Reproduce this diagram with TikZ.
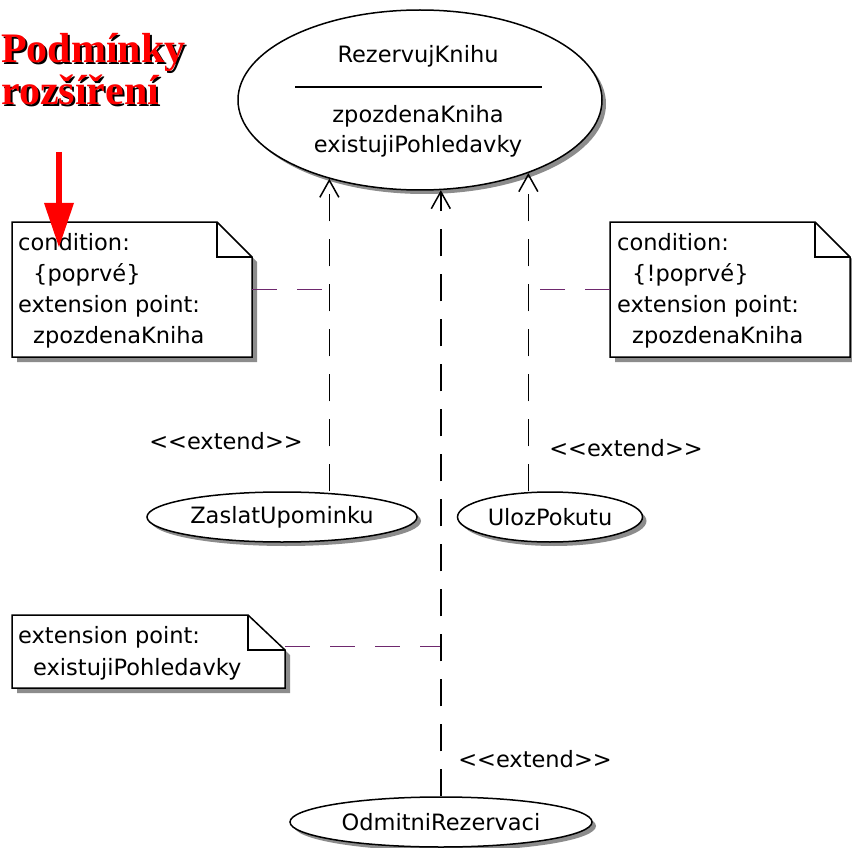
\documentclass[tikz,border=0pt]{standalone}
\usepackage{fontspec}
\setmainfont{Liberation Serif}
\newfontfamily\umlfont{DejaVu Sans}
\usetikzlibrary{arrows.meta,shadows,shapes.geometric}
\definecolor{umlpurple}{RGB}{110,40,110}
\begin{document}
\begin{tikzpicture}[x=1pt,y=-1pt,
  uml/.style={font=\umlfont\fontsize{22.5}{31}\selectfont, inner sep=0pt},
  ucshadow/.style={drop shadow={shadow xshift=4pt,shadow yshift=-4pt,fill=black!45,opacity=1}},
  usecase/.style={ellipse, draw=black, line width=1.5pt, fill=white, uml, ucshadow},
  notefrm/.style={draw=black, line width=1.5pt, fill=white,
    drop shadow={shadow xshift=5pt,shadow yshift=-5pt,fill=black!45,opacity=1}},
  notefold/.style={draw=black, line width=1.5pt},
  noteanchor/.style={rectangle, inner sep=0pt, outer sep=0pt, draw=none},
  notetext/.style={uml, anchor=base west},
  extendline/.style={line width=1.7pt, dash pattern=on 27pt off 18pt,
    -{Straight Barb[length=17pt,width=19pt,line width=1.5pt]}},
  notelink/.style={draw=umlpurple, line width=1.6pt, dash pattern=on 25pt off 20pt},
  stereo/.style={uml, anchor=base},
  titletext/.style={font=\bfseries\fontsize{42}{40}\selectfont, inner sep=0pt, anchor=base west},
]
% canvas
\path[fill=white] (0,0) rectangle (852,848);
\useasboundingbox (0,0) rectangle (852,848);

% use cases
\node[usecase, minimum width=364pt, minimum height=180pt] (rk) at (420,100) {};
\node[uml, anchor=base] (rkname) at (418,63) {RezervujKnihu};
\draw[line width=1.5pt] (295,87) -- (542,87);
\node[uml, anchor=base] (rkep1) at (418,123) {zpozdenaKniha};
\node[uml, anchor=base] (rkep2) at (418,153) {existujiPohledavky};

\node[usecase, minimum width=270pt, minimum height=50pt] (zu) at (282,517) {ZaslatUpominku};
\node[usecase, minimum width=185pt, minimum height=50pt] (up) at (550,517) {UlozPokutu};
\node[usecase, minimum width=302pt, minimum height=50pt] (or) at (441,822) {OdmitniRezervaci};

% notes
\node[noteanchor, minimum width=240pt, minimum height=135pt] (n1) at (132,289.5) {};
\draw[notefrm] (n1.north west) -- ([xshift=-35pt]n1.north east) -- ([yshift=-35pt]n1.north east)
  -- (n1.south east) -- (n1.south west) -- cycle;
\draw[notefold] ([xshift=-35pt]n1.north east) |- ([yshift=-35pt]n1.north east);
\node[notetext] (n1text) at (18,251) {\begin{tabular}[t]{@{}l@{}}condition:\\\hspace*{15pt}\{poprvé\}\\extension point:\\\hspace*{15pt}zpozdenaKniha\end{tabular}};

\node[noteanchor, minimum width=240pt, minimum height=135pt] (n2) at (730,289.5) {};
\draw[notefrm] (n2.north west) -- ([xshift=-35pt]n2.north east) -- ([yshift=-35pt]n2.north east)
  -- (n2.south east) -- (n2.south west) -- cycle;
\draw[notefold] ([xshift=-35pt]n2.north east) |- ([yshift=-35pt]n2.north east);
\node[notetext] (n2text) at (617,251) {\begin{tabular}[t]{@{}l@{}}condition:\\\hspace*{15pt}\{!poprvé\}\\extension point:\\\hspace*{15pt}zpozdenaKniha\end{tabular}};

\node[noteanchor, minimum width=273pt, minimum height=73pt] (n3) at (148.5,651.5) {};
\draw[notefrm] (n3.north west) -- ([xshift=-37pt]n3.north east) -- ([yshift=-35pt]n3.north east)
  -- (n3.south east) -- (n3.south west) -- cycle;
\draw[notefold] ([xshift=-37pt]n3.north east) |- ([yshift=-35pt]n3.north east);
\node[notetext] (n3text) at (18,643) {\fontsize{22.5}{32}\selectfont\begin{tabular}[t]{@{}l@{}}extension point:\\\hspace*{15pt}existujiPohledavky\end{tabular}};

% note links
\draw[notelink] (n1.east) -- (n1.east -| rk.221);
\draw[notelink] (n2.west) -- (n2.west -| rk.326);
\draw[notelink] ([yshift=5pt]n3.east) -- ([yshift=5pt]n3.east -| rk.283);

% extend relations
\draw[extendline] (rk.221 |- zu.north) -- (rk.221);
\draw[extendline] (rk.326 |- up.north) -- (rk.326);
\draw[extendline] (rk.283 |- or.north) -- (rk.283);

\node[stereo] (st1) at (226,449) {<<extend>>};
\node[stereo] (st2) at (626,456) {<<extend>>};
\node[stereo] (st3) at (535,767) {<<extend>>};

% heading with shadow
\node[titletext, text=black] (headshade) at (3,65) {\begin{tabular}[t]{@{}l@{}}Podmínky\\rozšíření\end{tabular}};
\node[titletext, text=red] (head) at (1,63) {\begin{tabular}[t]{@{}l@{}}Podmínky\\rozšíření\end{tabular}};

% pointer
\coordinate (ptrstart) at (59,152);
\coordinate (ptrtip) at (59,247);
\draw[red, line width=6pt, -{Triangle[length=44pt,width=30pt,line width=0pt]}] (ptrstart) -- (ptrtip);
\end{tikzpicture}
\end{document}
